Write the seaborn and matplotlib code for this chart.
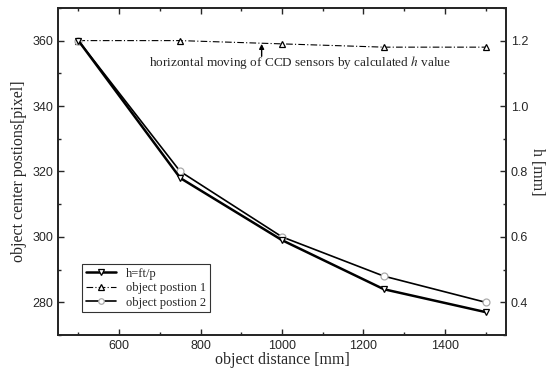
import matplotlib
matplotlib.use("Agg")
import matplotlib.pyplot as plt
from matplotlib.ticker import MultipleLocator
import seaborn as sns

# data
distance = [500, 750, 1000, 1250, 1500]
h_calc = [1.20, 0.78, 0.59, 0.44, 0.37]          # h = ft/p  [mm], right axis
pos1 = [360, 360, 359, 358, 358]                 # object postion 1 [pixel]
pos2 = [360, 320, 300, 288, 280]                 # object postion 2 [pixel]

sns.set_style("ticks")
plt.rcParams['font.family'] = ['Liberation Sans', 'DejaVu Sans']
plt.rcParams['mathtext.fontset'] = 'stix'
serif = ['Liberation Serif', 'DejaVu Serif']

fig = plt.figure(figsize=(5.6, 3.76), dpi=100)
ax = fig.add_axes([0.1036, 0.109, 0.8, 0.87])
ax2 = ax.twinx()

sns.lineplot(x=distance, y=pos1, ax=ax, color='black', lw=0.8, ls=(0, (6, 2, 1, 2)),
             marker='^', ms=5, mfc='white', mec='black', mew=0.9)
sns.lineplot(x=distance, y=pos2, ax=ax, color='black', lw=1.2,
             marker='o', ms=5, mfc='white', mec='#aaaaaa', mew=0.9)
sns.lineplot(x=distance, y=h_calc, ax=ax2, color='black', lw=1.8,
             marker='v', ms=5, mfc='white', mec='black', mew=0.9)

ax.set_xlim(450, 1550)
ax.set_ylim(270, 370)
ax2.set_ylim(0.3, 1.3)

ax.xaxis.set_major_locator(MultipleLocator(200))
ax.xaxis.set_minor_locator(MultipleLocator(100))
ax.yaxis.set_major_locator(MultipleLocator(20))
ax.yaxis.set_minor_locator(MultipleLocator(10))
ax2.yaxis.set_major_locator(MultipleLocator(0.2))
ax2.yaxis.set_minor_locator(MultipleLocator(0.1))
ax2.yaxis.set_major_formatter(plt.FormatStrFormatter('%.1f'))

for a in (ax, ax2):
    a.tick_params(which='both', direction='in', labelsize=9, width=1)
    a.tick_params(which='major', length=4)
    a.tick_params(which='minor', length=2)
    for s in a.spines.values():
        s.set_linewidth(1.3)
ax.tick_params(which='both', top=True)
ax2.tick_params(which='both', top=True)

ax.set_xlabel('object distance [mm]', fontsize=11.5, family=serif, labelpad=0)
ax.set_ylabel('object center postions[pixel]', fontsize=11.5, family=serif, labelpad=4)
ax2.set_ylabel('h [mm]', fontsize=11.5, family=serif, rotation=270, labelpad=12)

ax.annotate('', xy=(950, 359.0), xytext=(950, 355.2),
            arrowprops=dict(arrowstyle='-|>', color='black', lw=1, mutation_scale=7,
                            shrinkA=0, shrinkB=0))
ax.text(1043, 353.3, 'horizontal moving of CCD sensors by calculated $h$ value',
        ha='center', va='center', fontsize=9.5, family=serif)

handles = [ax2.lines[0], ax.lines[0], ax.lines[1]]
labels = ['h=ft/p', 'object postion 1', 'object postion 2']
leg = ax.legend(handles, labels, loc='lower left', bbox_to_anchor=(0.04, 0.05),
                prop={'family': serif, 'size': 9}, frameon=True, fancybox=False,
                edgecolor='black', handlelength=2.4, borderpad=0.3, labelspacing=0.2,
                markerscale=0.8)
leg.get_frame().set_linewidth(0.8)

fig.savefig('out.png', dpi=100)
